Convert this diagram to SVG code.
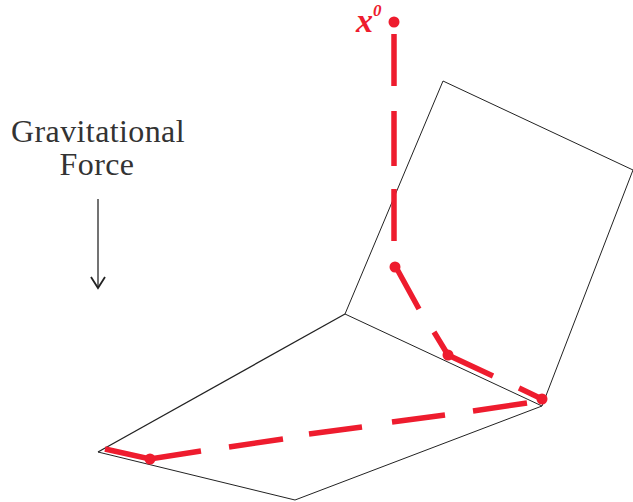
<svg xmlns="http://www.w3.org/2000/svg" width="633" height="502" viewBox="0 0 633 502">
<style>
.edge{fill:none;stroke:#222;stroke-width:1}
.path{fill:none;stroke:#ee1c2e;stroke-width:5.5;stroke-linecap:butt}
.pt{fill:#ee1c2e}
.lbl{font-family:"Liberation Serif","Times New Roman",serif;font-size:32px;letter-spacing:.4px;fill:#333;text-anchor:middle}
</style>
<rect width="633" height="502" fill="#fff"/>
<g id="surfaces">
<path class="edge" d="M345 314L443 81L633 170L542 406Z"/>
<path class="edge" d="M542 406L295 500L98 452"/>
<path class="edge" style="stroke-width:1.3" d="M98 452L345 314"/>
</g>
<g id="connectors">
<path class="path" d="M394 34V86M394 111V166M394 189V241M397 269L419 309M434 332L448 355L493 376M519 388L542 399M527 403L473 411M445 415L392 422M362 427L309 434M283 439L229 447M201 451L150 459L105 449"/>
<path d="M98 199V288" fill="none" stroke="#444" stroke-width="1.5"/>
<path d="M91 277L98 288L105 277" fill="none" stroke="#222" stroke-width="1.8"/>
</g>
<g id="points">
<circle class="pt" cx="394" cy="22" r="5.5"/>
<circle class="pt" cx="395" cy="267" r="5.5"/>
<circle class="pt" cx="448" cy="355" r="5.5"/>
<circle class="pt" cx="542" cy="399" r="5.5"/>
<circle class="pt" cx="150" cy="459" r="5.5"/>
</g>
<g id="label-x0">
<text x="356" y="31.5" font-family="'Liberation Serif',serif" font-size="34" font-style="italic" font-weight="bold" fill="#ee1c2e">x</text>
<text x="373" y="15.5" font-family="'Liberation Serif',serif" font-size="17" font-style="italic" font-weight="bold" fill="#ee1c2e">0</text>
</g>
<g id="label-force">
<text class="lbl" x="98" y="142">Gravitational</text>
<text class="lbl" x="97" y="175">Force</text>
</g>
</svg>
